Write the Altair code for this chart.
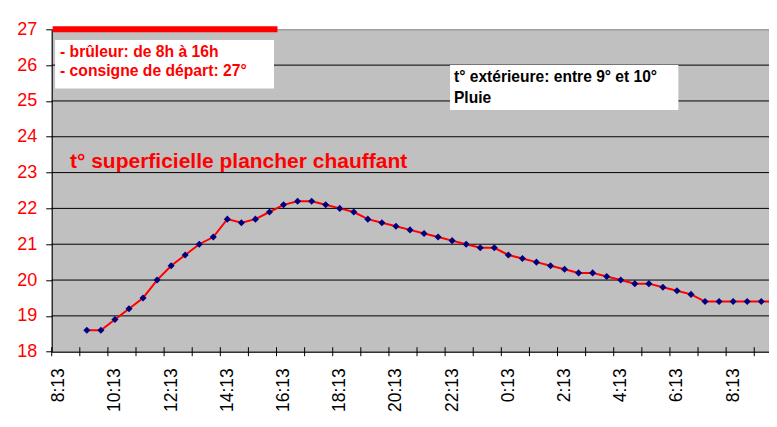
import json
import altair as alt
import pandas as pd

# ---------------- data ----------------
times = ["8:13", "8:43", "9:13", "9:43", "10:13", "10:43", "11:13", "11:43",
         "12:13", "12:43", "13:13", "13:43", "14:13", "14:43", "15:13", "15:43",
         "16:13", "16:43", "17:13", "17:43", "18:13", "18:43", "19:13", "19:43",
         "20:13", "20:43", "21:13", "21:43", "22:13", "22:43", "23:13", "23:43",
         "0:13", "0:43", "1:13", "1:43", "2:13", "2:43", "3:13", "3:43",
         "4:13", "4:43", "5:13", "5:43", "6:13", "6:43", "7:13", "7:43",
         "8:13", "8:43", "9:13", "9:43"]
temps = [None, None, 18.6, 18.6, 18.9, 19.2, 19.5, 20.0, 20.4, 20.7,
         21.0, 21.2, 21.7, 21.6, 21.7, 21.9, 22.1, 22.2, 22.2, 22.1,
         22.0, 21.9, 21.7, 21.6, 21.5, 21.4, 21.3, 21.2, 21.1, 21.0,
         20.9, 20.9, 20.7, 20.6, 20.5, 20.4, 20.3, 20.2, 20.2, 20.1,
         20.0, 19.9, 19.9, 19.8, 19.7, 19.6, 19.4, 19.4, 19.4, 19.4,
         19.4, 19.4]
y_ticks = list(range(18, 28))
grid_values = list(range(19, 27))
label_every = 4
tick_every = 2
burner_start, burner_end = "8:00", "16:00"
burner_level = 27
title_text = "t° superficielle plancher chauffant"
box1_lines = ["- brûleur: de 8h à 16h", "- consigne de départ: 27°"]
box2_lines = ["t° extérieure: entre 9° et 10°", "Pluie"]

# ---------------- layout ----------------
PW, PH = 717.3, 322.4
X_DOMAIN = [-0.5, 50.55]
Y_DOMAIN = [18, 27]
RED = "#ff0000"
FONT = "Liberation Sans"


def to_idx(t):
    h, m = map(int, t.split(":"))
    return ((h * 60 + m) - (8 * 60 + 13)) / 30


df = pd.DataFrame({"idx": list(range(len(times))), "time": times, "temp": temps})
xs = alt.Scale(domain=X_DOMAIN, nice=False, zero=False)
ys = alt.Scale(domain=Y_DOMAIN, nice=False, zero=False)

label_values = list(range(0, len(times), label_every))
label_expr = json.dumps(times) + "[datum.value]"

x_axis = alt.Axis(values=label_values, labelExpr=label_expr, labelAngle=270,
                  labelFontSize=17.5, labelFont=FONT, labelColor="black",
                  ticks=False, labelPadding=16, domainColor="black",
                  grid=False, title=None, labelOverlap=False, labelFlush=False)
y_axis = alt.Axis(values=y_ticks, labelFontSize=18, labelFont=FONT, labelColor=RED,
                  tickColor="black", tickSize=6, labelPadding=9, domainColor="black",
                  grid=False, title=None)


def X(field):
    return alt.X(field, scale=xs, axis=x_axis)


def Y(field):
    return alt.Y(field, scale=ys, axis=y_axis)


grid_df = pd.DataFrame({"g": grid_values})
grid = alt.Chart(grid_df).mark_rule(color="black", strokeWidth=1).encode(y=Y("g:Q"))

line = alt.Chart(df).mark_line(color=RED, strokeWidth=2).encode(
    x=X("idx:Q"), y=Y("temp:Q"))
points = alt.Chart(df).mark_point(shape="diamond", filled=True, color="#000080",
                                  size=50, opacity=1).encode(x=X("idx:Q"), y=Y("temp:Q"))

tick_df = pd.DataFrame({"t": [i - 0.5 for i in range(0, len(times), tick_every)
                              if i - 0.5 <= X_DOMAIN[1]]})
xticks = alt.Chart(tick_df).mark_rule(color="black", strokeWidth=1).encode(
    x=X("t:Q"), y=alt.value(PH - 4.5), y2=alt.value(PH + 4.5))

burner_df = pd.DataFrame({"x": [to_idx(burner_start)], "x2": [to_idx(burner_end)],
                          "y": [burner_level]})
burner_rule = alt.Chart(burner_df).mark_rule(color=RED, strokeWidth=6).encode(
    x=X("x:Q"), x2="x2:Q", y=Y("y:Q"))

boxes_df = pd.DataFrame({"x": [-0.26, 27.85], "x2": [15.32, 44.10],
                         "y": [26.70, 26.00], "y2": [25.35, 24.75]})
boxes = alt.Chart(boxes_df).mark_rect(fill="white").encode(
    x=X("x:Q"), x2="x2:Q", y=Y("y:Q"), y2="y2:Q")

t1 = pd.DataFrame({"x": [0.09, 0.09], "y": [26.235, 25.696], "text": box1_lines})
text1 = alt.Chart(t1).mark_text(align="left", baseline="alphabetic", font=FONT,
                                fontSize=15.7, fontWeight="bold", color=RED).encode(
    x=X("x:Q"), y=Y("y:Q"), text="text:N")

t2 = pd.DataFrame({"x": [28.13, 28.13], "y": [25.536, 24.95], "text": box2_lines})
text2 = alt.Chart(t2).mark_text(align="left", baseline="alphabetic", font=FONT,
                                fontSize=15.6, fontWeight="bold", color="black").encode(
    x=X("x:Q"), y=Y("y:Q"), text="text:N")

tt = pd.DataFrame({"x": [0.80], "y": [23.117], "text": [title_text]})
title = alt.Chart(tt).mark_text(align="left", baseline="alphabetic", font=FONT,
                                fontSize=21, fontWeight="bold", color=RED).encode(
    x=X("x:Q"), y=Y("y:Q"), text="text:N")

chart = alt.layer(grid, line, points, xticks, boxes, burner_rule, text1, text2, title).properties(
    width=PW, height=PH,
    autosize=alt.AutoSizeParams(type="none"),
    padding={"left": 43.7, "top": 21.3, "right": 0, "bottom": 65},
    background="white",
).configure_view(fill="#C0C0C0", stroke="#808080", strokeWidth=1)

chart.save("out.html", embed_options={"renderer": "svg", "actions": False})
